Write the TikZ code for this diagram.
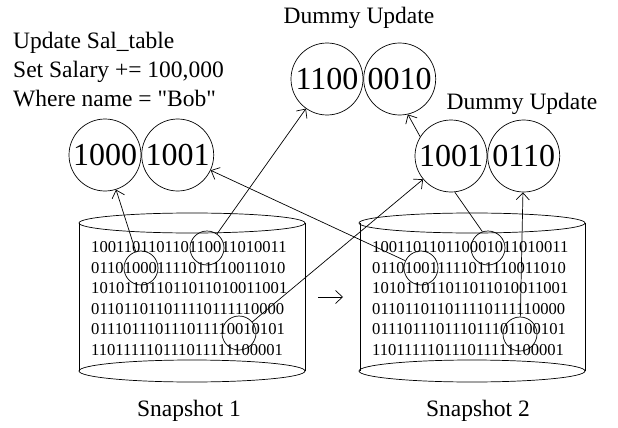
\documentclass[tikz,border=0pt]{standalone}
\usepackage{fontspec}
\setmainfont{Liberation Serif}
\usetikzlibrary{arrows.meta,positioning}

\begin{document}
\begin{tikzpicture}[
  x=1pt, y=-1pt,
  block/.style={circle, draw, line width=0.7pt, minimum size=72pt, inner sep=0pt, font=\fontsize{32}{36}\selectfont},
  bits/.style={circle, draw, line width=0.7pt, minimum size=34pt, inner sep=0pt},
  dump/.style={align=left, inner sep=0pt, anchor=west, font=\fontsize{16.6}{20.6}\selectfont},
  lbl/.style={inner sep=0pt, font=\fontsize{23.5}{29}\selectfont},
  link/.style={-{Straight Barb[length=7pt,width=13pt]}, line width=0.7pt},
  plain/.style={line width=0.7pt}
]
\useasboundingbox (0,0) rectangle (618,428);

% Snapshot 1 cylinder
\draw[plain] (192,223) ellipse [x radius=113pt, y radius=10pt];
\draw[plain] (79,223) -- (79,371);
\draw[plain] (305,223) -- (305,371);
\draw[plain] (192,371) ellipse [x radius=113pt, y radius=11pt];
\node[dump] (disk1) at (91,298.5) {100110110110110011010011\\011010001111011110011010\\101011011011011010011001\\011011011011110111110000\\011101110111011110010101\\110111110111011111100001};
\node[lbl] (snap1) at (189,411) {Snapshot 1};

% Snapshot 2 cylinder
\draw[plain] (472,223) ellipse [x radius=113pt, y radius=10pt];
\draw[plain] (360,223) -- (360,371);
\draw[plain] (585,223) -- (585,371);
\draw[plain] (472,371) ellipse [x radius=113pt, y radius=11pt];
\node[dump] (disk2) at (372,298.5) {100110110110001011010011\\011010011111011110011010\\101011011011011010011001\\011011011011110111110000\\011101110111011101100101\\110111110111011111100001};
\node[lbl] (snap2) at (478,411) {Snapshot 2};

% marked blocks
\node[bits] (s1a) at (141,268) {};
\node[bits] (s1b) at (207,248) {};
\node[bits] (s1c) at (239,333) {};
\node[bits] (s2a) at (421,268) {};
\node[bits] (s2b) at (488,248) {};
\node[bits] (s2c) at (520,334) {};

% real update
\node[lbl, anchor=west, align=left] (query) at (13,70) {Update Sal\_table\\Set Salary += 100,000\\Where name = \textquotedbl Bob\textquotedbl};
\node[block] (old) at (105,155) {1000};
\node[block, right=0pt of old] (new) {1001};

% dummy updates
\node[lbl] (dummy1) at (359,18) {Dummy Update};
\node[block] (dmy1a) at (327,79) {1100};
\node[block, right=0pt of dmy1a] (dmy1b) {0010};
\node[lbl] (dummy2) at (522,104) {Dummy Update};
\node[block] (dmy2a) at (451,156) {1001};
\node[block, right=0pt of dmy2a] (dmy2b) {0110};

\draw[link] (s1a) -- (old);
\draw[link] (s2a) -- (new);
\draw[link] (s1b) -- (dmy1a);
\draw[link] (s1c) -- (dmy2a);
\draw[plain] (s2b.109) -- (dmy2a.276);
\draw[link] (s2c) -- (dmy2b);
\draw[link] (dmy2a.148) -- (dmy1b.283);

\coordinate (gap1) at (318,297);
\coordinate (gap2) at (343,297);
\draw[link] (gap1) -- (gap2);

\end{tikzpicture}
\end{document}
